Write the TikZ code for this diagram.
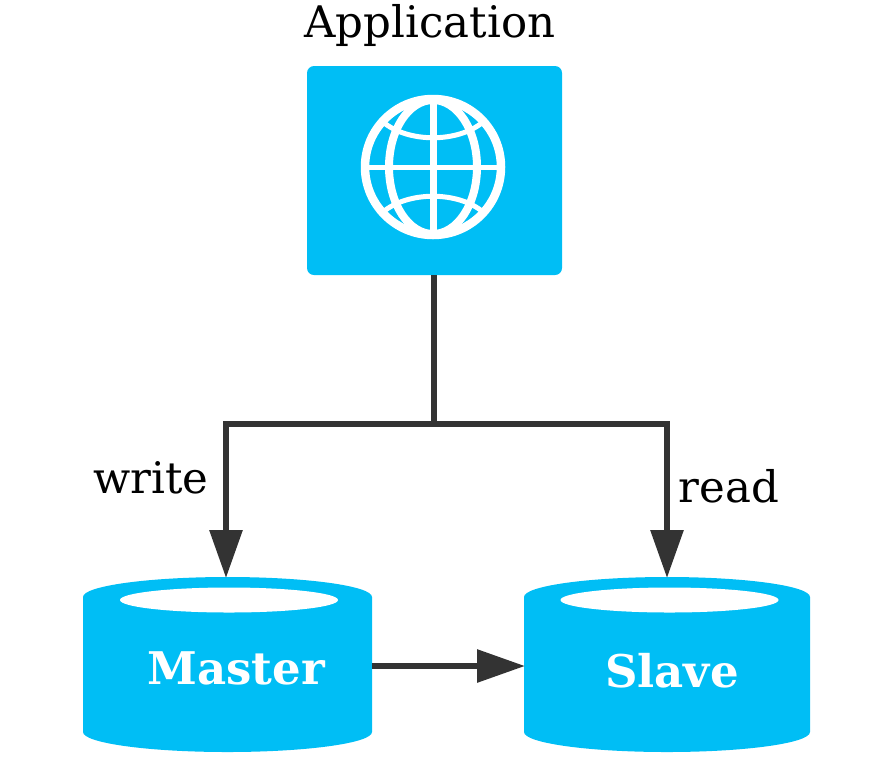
\documentclass[tikz,border=0pt]{standalone}
\usepackage{fontspec}
\setmainfont{DejaVu Serif}
\usetikzlibrary{arrows.meta,shapes.geometric,calc}
\definecolor{skyb}{HTML}{00BEF5}
\definecolor{darkl}{HTML}{333333}
\tikzset{
  x=1pt,y=-1pt,
  bigtext/.style={font=\fontsize{43.5}{46}\selectfont,text=black,inner sep=0pt},
  dbtext/.style={font=\fontsize{45}{48}\selectfont\bfseries,text=white,inner sep=0pt},
  dbbody/.style={fill=skyb,draw=none},
  dbhole/.style={shape=ellipse,fill=white,draw=none,minimum width=218pt,minimum height=25pt,inner sep=0pt},
  appbox/.style={shape=rectangle,rounded corners=7pt,fill=skyb,draw=none,minimum width=255pt,minimum height=209pt,inner sep=0pt,outer sep=0pt},
  link/.style={draw=darkl,line width=6pt},
  linka/.style={link,-{Triangle[length=48pt,width=32pt]}},
  globe/.style={draw=white,line width=8pt},
}
\begin{document}
\begin{tikzpicture}
\useasboundingbox (0,0) rectangle (882,772);
\node[appbox] (app) at (434.5,170.5) {};
\begin{scope}[shift={(433,167)}]
  \draw[globe,line width=8.5pt] (0,0) circle[radius=68];
  \draw[globe] (0,0) ellipse[x radius=44,y radius=67];
  \draw[globe,line width=7pt] (0,-66) -- (0,66);
  \draw[globe,line width=5pt] (-66,0) -- (66,0);
  \draw[globe,line width=5pt] (-50,-45) .. controls (-25,-24) and (25,-24) .. (50,-45);
  \draw[globe,line width=5pt] (-50,45) .. controls (-25,24) and (25,24) .. (50,45);
\end{scope}
\node[bigtext] (apptitle) at (430,25) {Application};
\path[dbbody] (83,597) .. controls (83,586) and (148,577) .. (227.5,577) .. controls (307,577) and (372,586) .. (372,597)
  -- (372,732) .. controls (372,743) and (307,752) .. (227.5,752) .. controls (148,752) and (83,743) .. (83,732) -- cycle;
\path[dbbody] (524,597) .. controls (524,586) and (588,577) .. (667,577) .. controls (746,577) and (810,586) .. (810,597)
  -- (810,732) .. controls (810,743) and (746,752) .. (667,752) .. controls (588,752) and (524,743) .. (524,732) -- cycle;
\node[dbhole] (mhole) at (229,600) {};
\node[dbhole] (shole) at (669.5,600) {};
\node[dbtext] (mlabel) at (236,668) {Master};
\node[dbtext] (slabel) at (672,671) {Slave};
\coordinate (appout) at (434,275);
\coordinate (split) at (434,424);
\coordinate (mtop) at (226,578);
\coordinate (stop) at (667,578);
\coordinate (wturn) at (mtop |- split);
\coordinate (rturn) at (stop |- split);
\coordinate (mside) at (372,666);
\coordinate (sside) at (525,666);
\draw[link] (appout) -- (split);
\draw[link] ([xshift=-3pt]wturn) -- ([xshift=3pt]rturn);
\draw[linka] (wturn) -- (mtop);
\draw[linka] (rturn) -- (stop);
\draw[linka] (mside) -- (sside);
\node[bigtext] (wlabel) at (151,478) {write};
\node[bigtext] (rlabel) at (729,486) {read};
\end{tikzpicture}
\end{document}
